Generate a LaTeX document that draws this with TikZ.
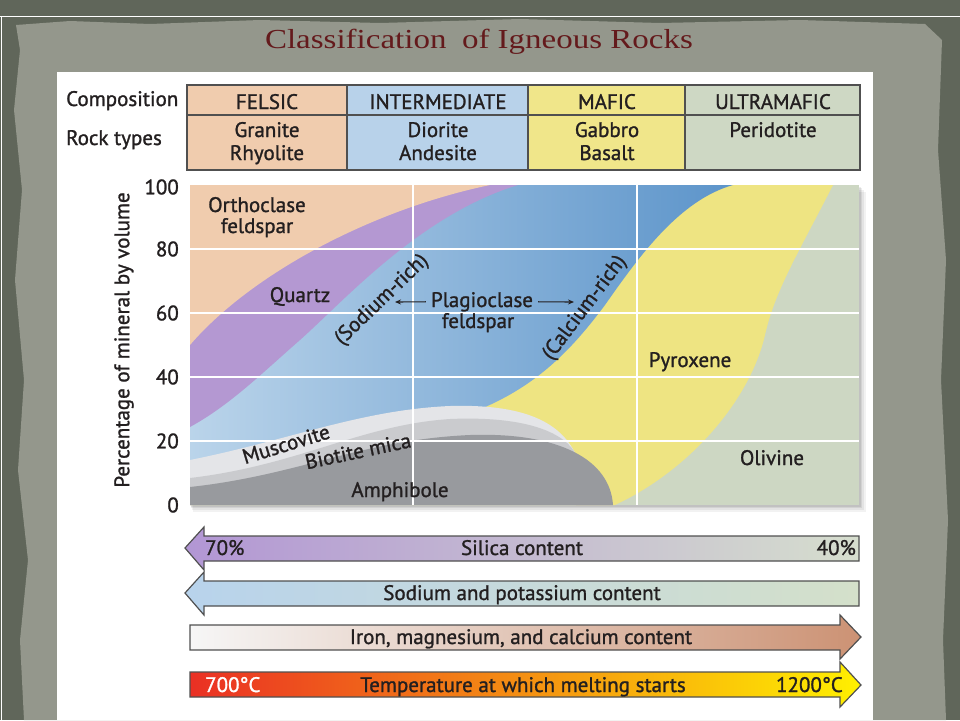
\documentclass[tikz,border=0pt]{standalone}
\usepackage{fontspec}
\setmainfont{PT Sans}[UprightFeatures={FakeBold=1.2}]
\newfontfamily\titlefont{Liberation Serif}
\usetikzlibrary{arrows.meta}
\definecolor{bgdark}{RGB}{96,102,90}
\definecolor{parch}{RGB}{148,151,140}
\definecolor{titlered}{RGB}{100,26,28}
\definecolor{felsic}{RGB}{240,204,174}
\definecolor{interm}{RGB}{184,210,234}
\definecolor{mafic}{RGB}{240,230,138}
\definecolor{ultra}{RGB}{206,216,196}
\definecolor{quartz}{RGB}{180,152,210}
\definecolor{plagL}{RGB}{186,212,234}
\definecolor{plagR}{RGB}{92,148,202}
\definecolor{pyrox}{RGB}{238,228,130}
\definecolor{olivine}{RGB}{205,215,195}
\definecolor{musc}{RGB}{228,229,232}
\definecolor{biot}{RGB}{202,203,206}
\definecolor{amph}{RGB}{152,154,158}
\definecolor{ink}{RGB}{35,31,32}
\definecolor{edge}{RGB}{80,80,80}
\definecolor{silL}{RGB}{178,150,212}
\definecolor{silR}{RGB}{214,222,206}
\definecolor{naL}{RGB}{184,211,236}
\definecolor{naR}{RGB}{212,224,202}
\definecolor{feL}{RGB}{246,246,246}
\definecolor{feR}{RGB}{204,146,116}
\definecolor{tL}{RGB}{234,48,36}
\definecolor{tM}{RGB}{246,140,32}
\definecolor{tR}{RGB}{255,240,0}
\begin{document}
\begin{tikzpicture}[x=1pt,y=-1pt,
  txt/.style={font=\fontsize{21}{25}\selectfont, text=ink, inner sep=0pt},
  tick/.style={txt, anchor=east},
  gridline/.style={white, line width=1.8pt},
  cellline/.style={draw=edge, line width=1.3pt},
  bararrow/.style={draw=edge, line width=1.2pt},
  smallarrow/.style={ink, line width=1.1pt, -{Stealth[length=6pt,width=5pt]}}
]
\useasboundingbox (0,0) rectangle (960,720);
% ---------- slide background ----------
\fill[bgdark] (0,0) rectangle (960,720);
\fill[parch] (16,25) -- (70,21) -- (150,24) -- (260,20) -- (380,23) -- (520,19) -- (660,23) -- (800,20) -- (925,24)
  -- (942,40) -- (938,150) -- (946,260) -- (941,380) -- (948,520) -- (943,640) -- (946,720)
  -- (24,720) -- (20,640) -- (28,560) -- (18,470) -- (24,380) -- (15,280) -- (22,190) -- (14,110) -- (20,50) -- cycle;
\draw[white, line width=0.8pt] (0,16) -- (960,16);
\draw[white, line width=0.8pt] (1,16) -- (1,720);
% ---------- title ----------
\node[inner sep=0pt, anchor=base, text=titlered, font=\titlefont\fontsize{27.5}{30}\selectfont] (title) at (479,48)
  {\scalebox{1.2}[1]{Classification\hspace{6pt} of Igneous Rocks}};
% ---------- white panel ----------
\fill[white] (57,72) rectangle (873,720);
% ---------- table ----------
\fill[felsic] (187,85) rectangle (347,170);
\fill[interm] (347,85) rectangle (528,170);
\fill[mafic] (528,85) rectangle (685,170);
\fill[ultra] (685,85) rectangle (860,170);
\draw[cellline] (187,85) rectangle (860,170);
\draw[cellline] (187,115) -- (860,115);
\foreach \cx in {347,528,685} \draw[cellline] (\cx,85) -- (\cx,170);
\node[txt, anchor=base west] (compL) at (66,106) {Composition};
\node[txt, anchor=base west] (rockL) at (66,145) {Rock types};
\node[txt, anchor=base] (felsic) at (267,109) {FELSIC};
\node[txt, anchor=base] (interm) at (438,109) {INTERMEDIATE};
\node[txt, anchor=base] (mafic) at (607,109) {MAFIC};
\node[txt, anchor=base] (ultra) at (773,109) {ULTRAMAFIC};
\node[txt, anchor=base] (granite) at (267,137) {Granite};
\node[txt, anchor=base] (rhyolite) at (267,160) {Rhyolite};
\node[txt, anchor=base] (diorite) at (438,137) {Diorite};
\node[txt, anchor=base] (andesite) at (438,160) {Andesite};
\node[txt, anchor=base] (gabbro) at (607,137) {Gabbro};
\node[txt, anchor=base] (basalt) at (607,160) {Basalt};
\node[txt, anchor=base] (peridotite) at (773,137) {Peridotite};
% ---------- plot shadow ----------
\foreach \s/\o in {7/0.05,5/0.06,3/0.07,1.5/0.08}
  \fill[black, opacity=\o] (190+\s*0.4,185+\s) rectangle (859+\s,505+\s);
% ---------- plot regions ----------
\fill[olivine] (190,185) rectangle (859,505);
\fill[pyrox] (190,185) -- (833,185) .. controls (800,250) and (775,290) .. (765,335)
  .. controls (750,400) and (690,470) .. (615,505) -- (190,505) -- cycle;
\shade[left color=plagL, right color=plagR] (190,185) -- (733,185) .. controls (680,200) and (640,255) .. (605,305)
  .. controls (575,345) and (540,385) .. (478,410) -- (478,470) -- (190,470) -- cycle;
\fill[quartz] (190,185) -- (518,185) .. controls (420,215) and (345,300) .. (300,340)
  .. controls (260,375) and (230,405) .. (190,427) -- cycle;
\fill[felsic] (190,185) -- (490,185) .. controls (370,210) and (250,275) .. (190,345) -- cycle;
\fill[musc] (190,460) .. controls (290,440) and (360,410) .. (450,406)
  .. controls (520,404) and (560,420) .. (576,455) -- (576,505) -- (190,505) -- cycle;
\fill[biot] (190,478) .. controls (300,465) and (360,425) .. (450,419)
  .. controls (520,416) and (560,430) .. (574,451) -- (574,505) -- (190,505) -- cycle;
\fill[amph] (190,487) .. controls (300,475) and (360,440) .. (470,435)
  .. controls (560,432) and (610,460) .. (613,505) -- (190,505) -- cycle;
% grid
\foreach \gy in {249,313,377,441} \draw[gridline] (190,\gy) -- (859,\gy);
\foreach \gx in {413,637} \draw[gridline] (\gx,185) -- (\gx,505);
% axis
\node[tick] (t100) at (179,187) {100};
\node[tick] (t80) at (179,249) {80};
\node[tick] (t60) at (179,313) {60};
\node[tick] (t40) at (179,377) {40};
\node[tick] (t20) at (179,441) {20};
\node[tick] (t0) at (179,505) {0};
\node[txt, rotate=90] (ylab) at (124,340) {Percentage of mineral by volume};
% plot labels
\node[txt, anchor=base] (orth1) at (257,212) {Orthoclase};
\node[txt, anchor=base] (orth2) at (257,233) {feldspar};
\node[txt, anchor=base] (quartz) at (300,302) {Quartz};
\node[txt, anchor=base] (plag) at (482,307) {Plagioclase};
\node[txt, anchor=base] (plag2) at (478,328) {feldspar};
\node[txt, rotate=44] (sodium) at (382,300) {(Sodium-rich)};
\node[txt, rotate=53] (calcium) at (585,308) {(Calcium-rich)};
\coordinate (sodTip) at (395,302);
\coordinate (calTip) at (574,302);
\draw[smallarrow] ([xshift=-5pt]plag.west) -- (sodTip);
\draw[smallarrow] ([xshift=5pt]plag.east) -- (calTip);
\node[txt, anchor=base] (pyrox) at (690,367) {Pyroxene};
\node[txt, anchor=base] (olivine) at (772,465) {Olivine};
\node[txt, rotate=17] (musc) at (286,444) {Muscovite};
\node[txt, rotate=12] (biot) at (358,451) {Biotite mica};
\node[txt, anchor=base] (amph) at (400,497) {Amphibole};
% ---------- bottom arrows ----------
\shadedraw[bararrow, left color=silL, right color=silR] (185,548) -- (204,527) -- (204,536) -- (859,536) -- (859,561) -- (204,561) -- (204,570) -- cycle;
\shadedraw[bararrow, left color=naL, right color=naR] (185,593) -- (204,572) -- (204,581) -- (859,581) -- (859,606) -- (204,606) -- (204,615) -- cycle;
\shadedraw[bararrow, left color=feL, right color=feR] (190,625) -- (840,625) -- (840,615) -- (861,637) -- (840,659) -- (840,650) -- (190,650) -- cycle;
\shadedraw[bararrow, left color=tL, middle color=tM, right color=tR] (190,672) -- (840,672) -- (840,662) -- (861,685) -- (840,707) -- (840,697) -- (190,697) -- cycle;
\node[txt, anchor=base west] (p70) at (205,555) {70\%};
\node[txt, anchor=base] (silica) at (522,555) {Silica content};
\node[txt, anchor=base east] (p40) at (856,555) {40\%};
\node[txt, anchor=base] (sodk) at (522,600) {Sodium and potassium content};
\node[txt, anchor=base] (femg) at (521,644) {Iron, magnesium, and calcium content};
\node[txt, anchor=base west, text=white] (t700) at (205,692) {700°C};
\node[txt, anchor=base] (temp) at (523,692) {Temperature at which melting starts};
\node[txt, anchor=base east] (t1200) at (843,692) {1200°C};
\end{tikzpicture}
\end{document}
